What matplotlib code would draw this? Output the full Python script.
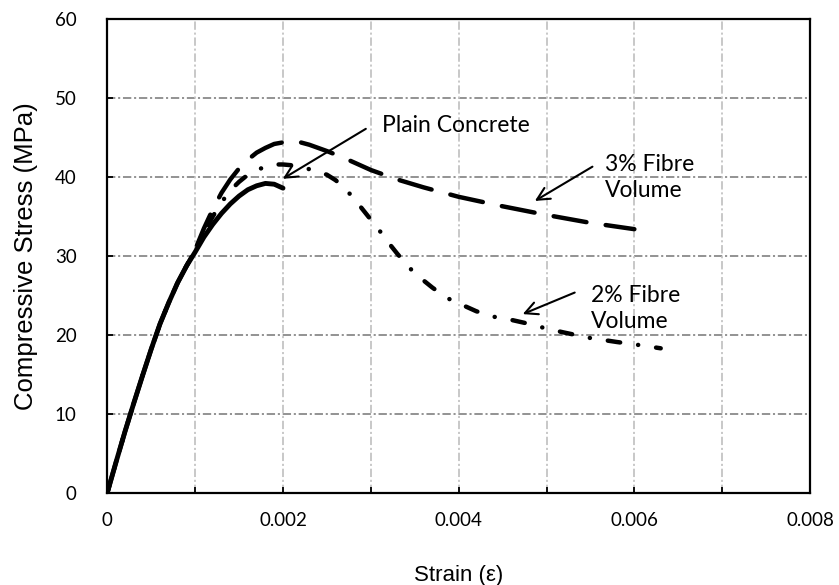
import matplotlib
matplotlib.use("Agg")
import matplotlib.pyplot as plt

# stress-strain data
strain_plain = [0, 0.0001, 0.0002, 0.0003, 0.0004, 0.0005, 0.0006, 0.0007, 0.0008, 0.0009,
                0.001, 0.0011, 0.0012, 0.0013, 0.0014, 0.0015, 0.0016, 0.0017, 0.0018,
                0.0019, 0.002]
stress_plain = [0, 3.9, 7.7, 11.3, 14.8, 18.2, 21.4, 24.1, 26.6, 28.7,
                30.5, 32.4, 34.0, 35.4, 36.6, 37.6, 38.4, 38.9, 39.2,
                39.1, 38.6]

strain_3pct = [0, 0.0001, 0.0002, 0.0003, 0.0004, 0.0005, 0.0006, 0.0007, 0.0008, 0.0009,
               0.001, 0.0011, 0.0012, 0.0013, 0.0014, 0.0015, 0.0016, 0.0017, 0.0018,
               0.0019, 0.002, 0.0021, 0.0022, 0.0023, 0.0024, 0.0025, 0.0027, 0.003,
               0.0033, 0.0036, 0.004, 0.0045, 0.005, 0.0055, 0.006]
stress_3pct = [0, 3.9, 7.7, 11.3, 14.8, 18.2, 21.4, 24.1, 26.6, 28.7,
               30.8, 33.5, 35.9, 38.0, 39.7, 41.1, 42.2, 43.1, 43.7,
               44.2, 44.4, 44.5, 44.4, 44.1, 43.7, 43.3, 42.4, 40.9,
               39.7, 38.7, 37.5, 36.3, 35.2, 34.2, 33.4]

strain_2pct = [0, 0.0001, 0.0002, 0.0003, 0.0004, 0.0005, 0.0006, 0.0007, 0.0008, 0.0009,
               0.001, 0.0011, 0.0012, 0.0013, 0.0014, 0.0015, 0.0016, 0.0017, 0.0018,
               0.0019, 0.002, 0.0021, 0.0022, 0.0023, 0.0024, 0.0025, 0.0026, 0.0027,
               0.0028, 0.0029, 0.003, 0.0031, 0.0032, 0.0033, 0.0034, 0.0035, 0.0036,
               0.0037, 0.0038, 0.0039, 0.004, 0.0042, 0.0044, 0.0046, 0.0048, 0.005,
               0.0052, 0.0055, 0.0058, 0.006, 0.0063]
stress_2pct = [0, 3.9, 7.7, 11.3, 14.8, 18.2, 21.4, 24.1, 26.6, 28.7,
               30.7, 33.0, 35.0, 36.8, 38.3, 39.4, 40.3, 40.9, 41.3,
               41.6, 41.6, 41.5, 41.3, 41.0, 40.7, 40.3, 39.6, 38.6,
               37.4, 36.0, 34.6, 33.2, 31.7, 30.3, 29.0, 27.8, 26.9,
               26.0, 25.2, 24.5, 24.0, 23.0, 22.3, 21.9, 21.4, 20.8,
               20.3, 19.6, 19.1, 18.8, 18.3]

x_ticks = [0, 0.001, 0.002, 0.003, 0.004, 0.005, 0.006, 0.007, 0.008]
x_tick_labels = ["0", "", "0.002", "", "0.004", "", "0.006", "", "0.008"]
y_ticks = [0, 10, 20, 30, 40, 50, 60]

plt.rcParams["lines.scale_dashes"] = False

fig = plt.figure(figsize=(8.39, 5.85), dpi=100)
ax = fig.add_axes([0.1279, 0.1578, 0.8376, 0.8092])

# grid lines: horizontal darker, vertical lighter
for y in y_ticks[1:-1]:
    ax.axhline(y, color="#8a8a8a", lw=1.3, ls=(0, (6, 2, 1.5, 2)), zorder=1)
for x in x_ticks[1:-1]:
    ax.axvline(x, color="#c4c4c4", lw=1.3, ls=(0, (6, 2, 1.5, 2)), zorder=1)

ax.plot(strain_plain, stress_plain, color="black", lw=3.5, solid_capstyle="round",
        solid_joinstyle="round", zorder=3)
ax.plot(strain_3pct, stress_3pct, color="black", lw=3.2, ls=(0, (24, 14)),
        dash_capstyle="round", zorder=3)
ax.plot(strain_2pct, stress_2pct, color="black", lw=3.2, ls=(4, (9, 13, 0.1, 13)),
        dash_capstyle="round", zorder=3)

ax.set_xlim(0, 0.008)
ax.set_ylim(0, 60)
ax.set_xticks(x_ticks)
ax.set_xticklabels(x_tick_labels, fontfamily="Lato", fontsize=13.5)
ax.set_yticks(y_ticks)
ax.set_yticklabels([str(v) for v in y_ticks], fontfamily="Lato", fontsize=13.5)
ax.tick_params(direction="in", length=4, width=1.3, pad=14)
ax.tick_params(axis="y", pad=22)
for s in ax.spines.values():
    s.set_linewidth(1.6)

ax.set_xlabel("Strain (ε)", fontfamily="Liberation Sans", fontsize=16, labelpad=26)
ax.set_ylabel("Compressive Stress (MPa)", fontfamily="Liberation Sans", fontsize=18.5,
              labelpad=12)

arrow = dict(arrowstyle="->,head_length=0.9,head_width=0.45", color="black", lw=1.5)
ax.annotate("", xy=(0.00197, 39.6), xytext=(0.00297, 46.3), arrowprops=arrow)
ax.text(0.00313, 46.5, "Plain Concrete", fontfamily="Lato", fontsize=16.5, va="center")

ax.annotate("", xy=(0.00484, 36.8), xytext=(0.00555, 41.5), arrowprops=arrow)
ax.text(0.00567, 40.0, "3% Fibre\nVolume", fontfamily="Lato", fontsize=16.5,
        va="center", linespacing=1.3)

ax.annotate("", xy=(0.0047, 22.5), xytext=(0.00535, 25.5), arrowprops=arrow)
ax.text(0.00551, 23.4, "2% Fibre\nVolume", fontfamily="Lato", fontsize=16.5,
        va="center", linespacing=1.3)

fig.savefig("out.png", dpi=100)
